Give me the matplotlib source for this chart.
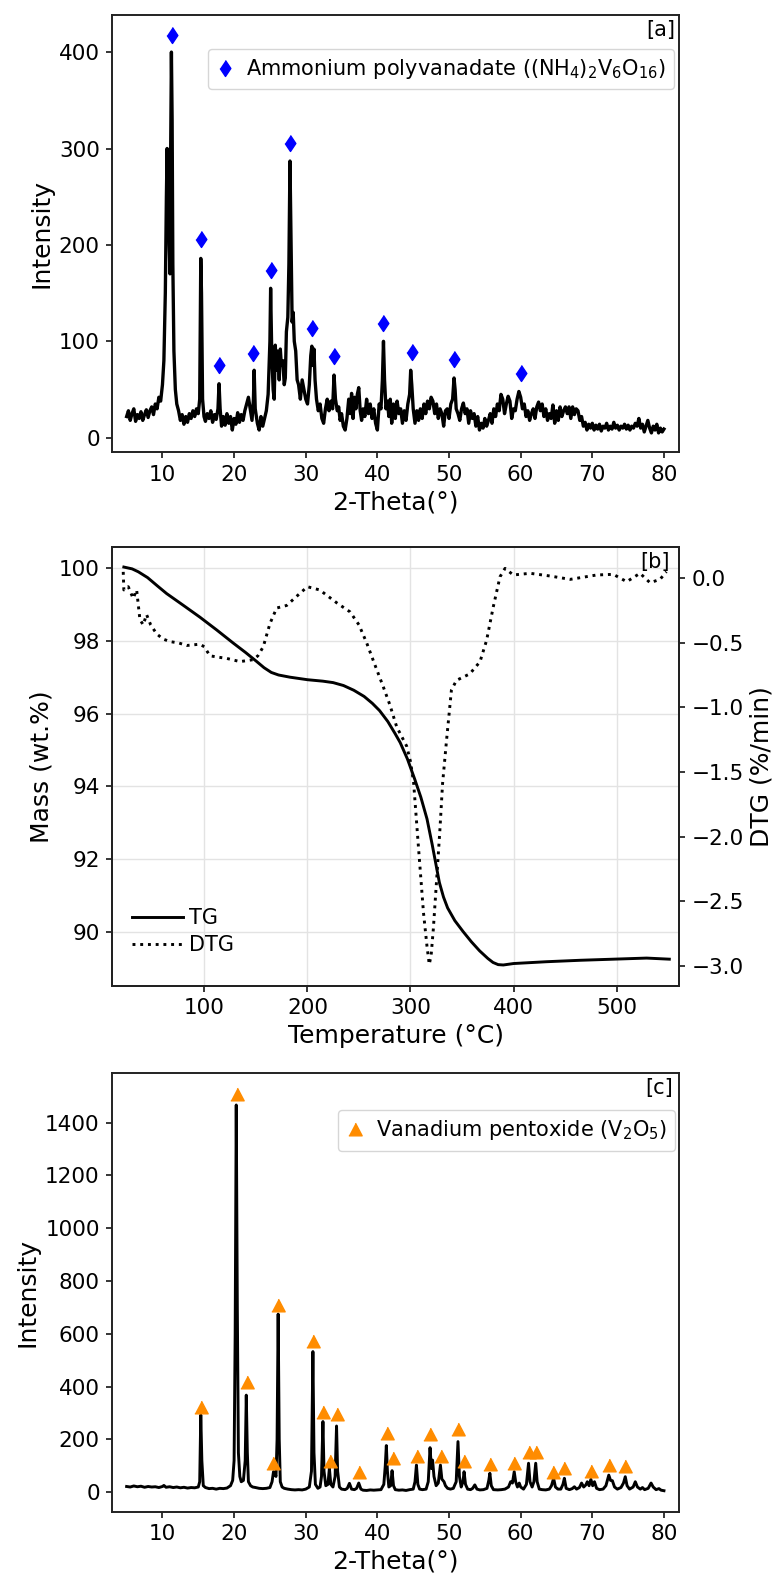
import matplotlib
matplotlib.use("Agg")
import matplotlib.pyplot as plt

plt.rcParams['font.family'] = ['DejaVu Sans']

# ---------------- Panel a: XRD of ammonium polyvanadate ----------------
xrd_a_theta = [5.0, 5.25, 5.5, 5.75, 6.0, 6.25, 6.5, 6.75, 7.0, 7.25, 7.5, 7.75, 8.0, 8.25, 8.5, 8.75,
               9.0, 9.25, 9.5, 9.75, 10.0, 10.2, 10.4, 10.55, 10.65, 10.75, 10.85, 10.95, 11.05, 11.15,
               11.25, 11.35, 11.45, 11.6, 11.8, 12.0, 12.25, 12.5, 12.75, 13.0, 13.25, 13.5, 13.75, 14.0,
               14.25, 14.5, 14.75, 15.0, 15.2, 15.35, 15.45, 15.6, 15.8, 16.0, 16.25, 16.5, 16.75, 17.0,
               17.25, 17.5, 17.75, 17.9, 18.05, 18.25, 18.5, 18.75, 19.0, 19.25, 19.5, 19.75, 20.0, 20.25,
               20.5, 20.75, 21.0, 21.25, 21.5, 21.75, 22.0, 22.25, 22.5, 22.7, 22.8, 22.95, 23.25, 23.5,
               23.75, 24.0, 24.25, 24.5, 24.75, 25.0, 25.1, 25.25, 25.45, 25.6, 25.75, 25.9, 26.0, 26.15,
               26.3, 26.45, 26.6, 26.8, 27.0, 27.15, 27.3, 27.5, 27.65, 27.8, 27.95, 28.1, 28.25, 28.4,
               28.6, 28.8, 29.0, 29.25, 29.5, 29.75, 30.0, 30.25, 30.5, 30.7, 30.85, 31.0, 31.15, 31.3,
               31.5, 31.75, 32.0, 32.25, 32.5, 32.75, 33.0, 33.25, 33.5, 33.75, 33.95, 34.15, 34.4, 34.6,
               34.8, 35.0, 35.25, 35.5, 35.75, 36.0, 36.2, 36.4, 36.6, 36.8, 37.0, 37.2, 37.4, 37.6, 37.8,
               38.0, 38.25, 38.5, 38.75, 39.0, 39.25, 39.5, 39.75, 40.0, 40.25, 40.5, 40.7, 40.85, 41.0,
               41.2, 41.4, 41.6, 41.8, 42.0, 42.25, 42.5, 42.75, 43.0, 43.25, 43.5, 43.75, 44.0, 44.25,
               44.5, 44.65, 44.8, 45.0, 45.25, 45.5, 45.75, 46.0, 46.25, 46.5, 46.75, 47.0, 47.25, 47.5,
               47.75, 48.0, 48.25, 48.5, 48.75, 49.0, 49.25, 49.5, 49.75, 50.0, 50.25, 50.5, 50.7, 50.85,
               51.0, 51.25, 51.5, 51.75, 52.0, 52.25, 52.5, 52.75, 53.0, 53.25, 53.5, 53.75, 54.0, 54.25,
               54.5, 54.75, 55.0, 55.25, 55.5, 55.75, 56.0, 56.25, 56.5, 56.75, 57.0, 57.25, 57.5, 57.75,
               58.0, 58.25, 58.5, 58.75, 59.0, 59.25, 59.5, 59.75, 60.0, 60.25, 60.5, 60.75, 61.0, 61.25,
               61.5, 61.75, 62.0, 62.25, 62.5, 62.75, 63.0, 63.25, 63.5, 63.75, 64.0, 64.25, 64.5, 64.75,
               65.0, 65.25, 65.5, 65.75, 66.0, 66.25, 66.5, 66.75, 67.0, 67.25, 67.5, 67.75, 68.0, 68.25,
               68.5, 68.75, 69.0, 69.25, 69.5, 69.75, 70.0, 70.25, 70.5, 70.75, 71.0, 71.25, 71.5, 71.75,
               72.0, 72.25, 72.5, 72.75, 73.0, 73.25, 73.5, 73.75, 74.0, 74.25, 74.5, 74.75, 75.0, 75.25,
               75.5, 75.75, 76.0, 76.25, 76.5, 76.75, 77.0, 77.25, 77.5, 77.75, 78.0, 78.25, 78.5, 78.75,
               79.0, 79.25, 79.5, 79.75, 80.0]
xrd_a_int = [22, 28, 18, 25, 30, 17, 24, 20, 27, 18, 24, 29, 21, 28, 32, 24,
             35, 30, 42, 38, 55, 80, 150, 250, 300, 240, 290, 200, 170, 300,
             400, 330, 180, 90, 50, 35, 28, 18, 24, 14, 22, 16, 25, 20,
             28, 22, 30, 25, 40, 186, 150, 40, 22, 17, 25, 20, 28, 16,
             24, 19, 30, 56, 30, 12, 22, 13, 25, 15, 22, 8, 20, 14,
             26, 16, 24, 18, 28, 35, 42, 30, 18, 40, 70, 30, 15, 8,
             22, 12, 20, 28, 45, 100, 155, 90, 50, 40, 96, 70, 90, 85,
             60, 92, 75, 80, 55, 62, 110, 125, 180, 287, 200, 120, 130, 100,
             90, 60, 55, 40, 60, 50, 40, 35, 55, 85, 95, 75, 92, 60,
             40, 28, 35, 20, 15, 30, 40, 28, 38, 30, 65, 40, 28, 32,
             18, 25, 12, 8, 20, 40, 25, 46, 20, 42, 30, 45, 52, 28, 18,
             30, 22, 40, 25, 35, 20, 30, 15, 8, 35, 30, 60, 100, 60,
             30, 38, 22, 40, 15, 35, 20, 38, 25, 30, 15, 28, 18, 35,
             45, 70, 55, 30, 15, 28, 18, 30, 20, 35, 25, 38, 30, 42,
             38, 25, 35, 20, 30, 25, 12, 28, 30, 20, 35, 40, 62, 50,
             30, 25, 18, 30, 36, 25, 30, 15, 28, 20, 25, 12, 22, 8,
             15, 10, 20, 12, 18, 25, 15, 30, 22, 35, 28, 45, 40, 25,
             35, 43, 38, 20, 30, 28, 40, 48, 42, 30, 35, 22, 28, 18,
             25, 30, 20, 32, 37, 28, 35, 22, 30, 18, 25, 20, 34, 15,
             28, 18, 32, 22, 28, 32, 25, 32, 20, 32, 24, 30, 28, 18,
             22, 12, 16, 8, 14, 10, 15, 8, 13, 9, 14, 7, 12, 10,
             15, 8, 12, 9, 16, 10, 13, 8, 12, 10, 14, 9, 13, 8,
             12, 10, 15, 12, 20, 10, 14, 6, 12, 18, 10, 5, 12, 8,
             14, 5, 10, 6, 9]

apv_theta = [11.3, 15.4, 17.9, 22.7, 25.1, 27.8, 30.85, 33.95, 40.85, 44.8, 50.75, 60.05]
apv_int = [418, 206, 75, 88, 174, 306, 113.5, 85, 119, 89, 82, 67.5]

# ---------------- Panel b: TG / DTG ----------------
tg_temp = [22, 30, 36, 45, 55, 63.5, 80, 95.8, 112, 128, 140, 150, 158, 165, 172, 183, 200, 215,
           225, 235, 245, 255, 263, 270, 278, 285, 290, 297, 304, 310, 316, 321, 325, 328, 332,
           336, 343, 351, 359, 367, 375, 380, 385, 390, 400, 432, 465, 497, 529, 551]
tg_mass = [100.03, 99.98, 99.9, 99.74, 99.5, 99.3, 98.97, 98.65, 98.3, 97.94, 97.68, 97.45,
           97.26, 97.13, 97.06, 97.0, 96.93, 96.89, 96.85, 96.77, 96.64, 96.47, 96.28, 96.08,
           95.78, 95.45, 95.2, 94.75, 94.2, 93.7, 93.1, 92.4, 91.8, 91.35, 90.95, 90.65, 90.3,
           90.0, 89.72, 89.47, 89.26, 89.15, 89.09, 89.08, 89.12, 89.17, 89.21, 89.24, 89.27,
           89.24]

dtg_temp = [21.4, 22, 26.3, 31, 34.4, 37.6, 40.8, 44, 48, 53.8, 60, 66.7, 75, 83, 95.8, 100,
            105.5, 113, 121.7, 134.6, 147.5, 152, 157.2, 163.7, 170.2, 179.9, 192.8, 200, 212,
            228.5, 241.4, 250, 257.5, 265, 273.6, 280, 286.6, 296.3, 300, 303, 307.7, 312.6,
            316, 318.2, 320, 322.1, 325.3, 328.5, 331.1, 335, 339.7, 344.6, 357.5, 367.4,
            373.8, 380.3, 386.8, 391.7, 399.7, 416, 435.4, 454.8, 480.6, 496.7, 509.7, 522.6,
            532.3, 542, 548.2]
dtg_rate = [0.05, -0.09, -0.065, -0.155, -0.09, -0.32, -0.36, -0.28, -0.36, -0.43, -0.47,
            -0.49, -0.50, -0.52, -0.51, -0.53, -0.60, -0.61, -0.62, -0.645, -0.63, -0.60,
            -0.53, -0.35, -0.23, -0.21, -0.116, -0.065, -0.09, -0.19, -0.26, -0.36, -0.50,
            -0.66, -0.84, -0.98, -1.15, -1.30, -1.42, -1.58, -2.08, -2.59, -2.85, -2.99,
            -2.92, -2.72, -2.34, -1.95, -1.59, -1.25, -0.865, -0.79, -0.74, -0.646, -0.48,
            -0.22, 0.012, 0.077, 0.026, 0.039, 0.018, -0.008, 0.026, 0.031, -0.026, 0.039,
            -0.034, -0.008, 0.051]

# ---------------- Panel c: XRD of V2O5 ----------------
xrd_c_theta = [5.0, 5.5, 6.0, 6.5, 7.0, 7.5, 8.0, 8.5, 9.0, 9.5, 10.0, 10.2, 10.5, 11.0, 11.5,
               12.0, 12.5, 13.0, 13.5, 14.0, 14.5, 15.0, 15.2, 15.35, 15.5, 15.7, 16.0, 16.5, 17.0,
               17.5, 18.0, 18.5, 19.0, 19.5, 19.8, 20.0, 20.15, 20.3, 20.45, 20.6, 20.8, 21.0, 21.3,
               21.55, 21.7, 21.85, 22.0, 22.3, 22.6, 23.0, 23.5, 24.0, 24.5, 25.0, 25.3, 25.5, 25.7,
               25.85, 26.0, 26.15, 26.3, 26.45, 26.7, 27.0, 27.5, 28.0, 28.5, 29.0, 29.5, 30.0, 30.5,
               30.8, 31.0, 31.15, 31.35, 31.7, 32.0, 32.2, 32.4, 32.55, 32.8, 33.1, 33.3, 33.5, 33.8,
               34.1, 34.3, 34.45, 34.7, 35.0, 35.5, 35.8, 36.1, 36.4, 36.8, 37.1, 37.4, 37.7, 38.0,
               38.5, 39.0, 39.5, 40.0, 40.5, 40.9, 41.1, 41.25, 41.4, 41.6, 41.85, 42.05, 42.25, 42.5,
               43.0, 43.5, 44.0, 44.5, 45.0, 45.25, 45.45, 45.65, 45.9, 46.3, 46.8, 47.1, 47.35, 47.55,
               47.7, 47.9, 48.2, 48.5, 48.8, 49.0, 49.3, 49.5, 49.8, 50.2, 50.6, 51.0, 51.25, 51.45,
               51.7, 51.95, 52.1, 52.3, 52.6, 53.0, 53.3, 53.6, 53.9, 54.3, 54.8, 55.3, 55.55, 55.7,
               55.9, 56.2, 56.8, 57.3, 57.8, 58.3, 58.6, 58.85, 59.1, 59.3, 59.55, 59.8, 60.0, 60.4,
               60.8, 61.1, 61.3, 61.6, 61.85, 62.1, 62.3, 62.6, 63.0, 63.5, 64.0, 64.3, 64.6, 64.85,
               65.2, 65.6, 65.9, 66.1, 66.35, 66.8, 67.2, 67.5, 67.8, 68.2, 68.5, 68.8, 69.1, 69.3,
               69.55, 69.8, 70.05, 70.3, 70.6, 71.0, 71.5, 71.9, 72.15, 72.3, 72.55, 72.8, 73.1, 73.5,
               74.0, 74.35, 74.6, 74.85, 75.2, 75.7, 76.0, 76.3, 76.7, 77.0, 77.3, 77.8, 78.2, 78.5,
               78.9, 79.3, 79.6, 80.0]
xrd_c_int = [22, 20, 24, 21, 23, 19, 22, 20, 21, 18, 22, 26, 19, 21, 18,
             20, 17, 19, 16, 18, 17, 20, 40, 293, 120, 25, 18, 14, 15,
             12, 15, 14, 16, 25, 45, 120, 600, 1467, 700, 150, 60, 40, 45,
             120, 368, 150, 40, 25, 20, 18, 15, 14, 15, 18, 40, 78, 70,
             60, 200, 675, 200, 40, 20, 15, 12, 10, 9, 10, 9, 12, 20,
             80, 533, 150, 30, 15, 20, 60, 268, 80, 25, 30, 91, 30, 20,
             60, 251, 80, 20, 12, 10, 15, 34, 12, 10, 15, 35, 12, 8,
             7, 9, 8, 9, 10, 30, 100, 177, 80, 20, 25, 82, 25, 10,
             8, 9, 7, 10, 12, 40, 103, 30, 12, 10, 12, 40, 169, 90,
             122, 60, 25, 35, 103, 50, 40, 25, 15, 12, 15, 40, 192, 60,
             20, 40, 78, 30, 12, 10, 15, 28, 12, 9, 10, 15, 45, 72,
             25, 10, 9, 10, 12, 20, 40, 35, 78, 40, 20, 35, 20, 12,
             30, 110, 40, 20, 40, 110, 40, 12, 10, 9, 12, 25, 53, 20,
             12, 12, 30, 53, 15, 10, 14, 21, 12, 18, 35, 20, 28, 40,
             25, 49, 25, 40, 15, 10, 12, 25, 50, 65, 45, 44, 20, 12,
             18, 35, 59, 25, 12, 20, 40, 20, 12, 18, 10, 15, 35, 20,
             10, 14, 8, 6]

v2o5_theta = [15.4, 20.38, 21.78, 25.4, 26.19, 30.98, 32.38, 33.4, 34.33, 37.45, 41.3, 42.15,
              45.5, 47.35, 48.9, 51.26, 52.14, 55.68, 59.08, 61.12, 62.14, 64.56, 66.09, 69.78,
              72.33, 74.6]
v2o5_int = [324, 1507, 419, 110, 709, 573, 303, 120, 297, 76, 223, 130,
            137.5, 219, 137, 238, 120, 107, 112, 154, 154, 78, 91, 82, 103, 99.5]

# ---------------- styling ----------------
W, H = 781, 1578
fig = plt.figure(figsize=(W / 100, H / 100), dpi=100)
TICK_FS = 15.5
LAB_FS = 18
LEG_FS = 15
TAG_FS = 15

diamond = [(0, 1), (0.67, 0), (0, -1), (-0.67, 0)]
triangle = [(-1, -0.95), (1, -0.95), (0, 0.95)]


def px_axes(left, top, right, bottom):
    return fig.add_axes([left / W, 1 - bottom / H, (right - left) / W, (bottom - top) / H])


def style(ax):
    for s in ax.spines.values():
        s.set_linewidth(1.4)
        s.set_color('#222222')
    ax.tick_params(labelsize=TICK_FS, width=1.1, length=4.5, pad=4.5)


# Panel a
ax1 = px_axes(112.3, 14.7, 679, 452.3)
ax1.plot(xrd_a_theta, xrd_a_int, color='black', lw=2.4)
ax1.plot(apv_theta, apv_int, ls='none', marker=diamond, ms=11.5, color='#0000FF',
         label='Ammonium polyvanadate ((NH$_4$)$_2$V$_6$O$_{16}$)')
ax1.set_xlim(3.0, 82.1)
ax1.set_ylim(-15.1, 438.8)
ax1.set_xticks([10, 20, 30, 40, 50, 60, 70, 80])
ax1.set_yticks([0, 100, 200, 300, 400])
ax1.set_xlabel('2-Theta(°)', fontsize=LAB_FS, labelpad=4)
ax1.set_ylabel('Intensity', fontsize=LAB_FS)
ax1.text(0.993, 0.988, '[a]', transform=ax1.transAxes, ha='right', va='top', fontsize=TAG_FS)
ax1.legend(loc='upper right', bbox_to_anchor=(0.991, 0.922), fontsize=LEG_FS, numpoints=1,
           handlelength=0.8, handletextpad=0.6, borderaxespad=0.0, borderpad=0.4)
style(ax1)

# Panel b
ax2 = px_axes(112.3, 546.7, 679, 985.7)
ax2.grid(True, color='#e3e3e3', lw=1.0)
ax2.set_axisbelow(True)
l_tg, = ax2.plot(tg_temp, tg_mass, color='black', lw=2.1, label='TG')
ax2.set_xlim(10.8, 560.4)
ax2.set_ylim(88.51, 100.59)
ax2.set_xticks([100, 200, 300, 400, 500])
ax2.set_yticks([90, 92, 94, 96, 98, 100])
ax2.set_xlabel('Temperature (°C)', fontsize=LAB_FS, labelpad=4)
ax2.set_ylabel('Mass (wt.%)', fontsize=LAB_FS)
ax2b = ax2.twinx()
l_dtg, = ax2b.plot(dtg_temp, dtg_rate, color='black', lw=2.1, ls=':', label='DTG')
ax2b.set_ylim(-3.155, 0.245)
ax2b.set_yticks([-3.0, -2.5, -2.0, -1.5, -1.0, -0.5, 0.0])
ax2b.set_ylabel('DTG (%/min)', fontsize=LAB_FS)
ax2b.text(0.984, 0.988, '[b]', transform=ax2b.transAxes, ha='right', va='top', fontsize=TAG_FS)
ax2b.legend(handles=[l_tg, l_dtg], loc='lower left', bbox_to_anchor=(0.02, 0.05),
            fontsize=LEG_FS, frameon=False, handlelength=2.45, handletextpad=0.3,
            borderaxespad=0.0, labelspacing=0.35)
style(ax2)
style(ax2b)

# Panel c
ax3 = px_axes(112.3, 1073.3, 679, 1511.7)
ax3.plot(xrd_c_theta, xrd_c_int, color='black', lw=2.1)
ax3.plot(v2o5_theta, v2o5_int, ls='none', marker=triangle, ms=9.6, color='#FF8C00',
         label='Vanadium pentoxide (V$_2$O$_5$)')
ax3.set_xlim(3.0, 82.1)
ax3.set_ylim(-73.5, 1587)
ax3.set_xticks([10, 20, 30, 40, 50, 60, 70, 80])
ax3.set_yticks([0, 200, 400, 600, 800, 1000, 1200, 1400])
ax3.set_xlabel('2-Theta(°)', fontsize=LAB_FS, labelpad=4)
ax3.set_ylabel('Intensity', fontsize=LAB_FS)
ax3.text(0.989, 0.99, '[c]', transform=ax3.transAxes, ha='right', va='top', fontsize=TAG_FS)
ax3.legend(loc='upper right', bbox_to_anchor=(0.993, 0.916), fontsize=LEG_FS, numpoints=1,
           handlelength=0.8, handletextpad=0.6, borderaxespad=0.0, borderpad=0.4)
style(ax3)

fig.savefig('out.png', dpi=100)
